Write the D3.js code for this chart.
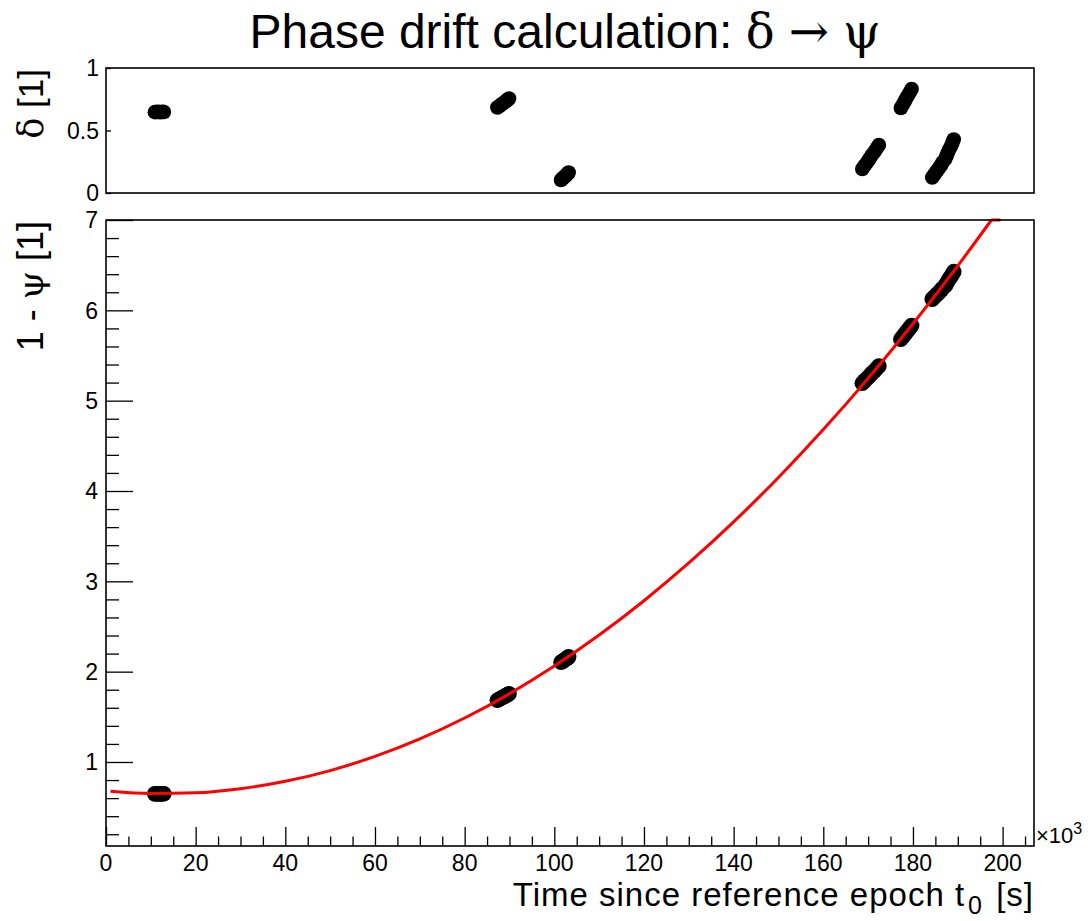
<!DOCTYPE html>
<html>
<head>
<meta charset="utf-8">
<script src="https://cdn.jsdelivr.net/npm/d3@7"></script>
<style>
  html, body { margin: 0; padding: 0; background: #fff; }
  svg { display: block; }
  text { font-family: "Liberation Sans", Arial, sans-serif; fill: #000; }
  .sym { font-family: "DejaVu Serif", "Liberation Serif", serif; }
</style>
</head>
<body>
<div id="chart"></div>
<script>
// observed phases: time since t0 (x10^3 s), fractional phase delta, cycle count
const obsTime = [
  10.9, 11.2, 11.5, 11.8, 12.1, 12.4, 12.7, 12.9,
  87.3, 87.7, 88.1, 88.5, 88.9, 89.3, 89.6, 89.9,
  101.5, 101.8, 102.1, 102.4, 102.7, 103.0, 103.2,
  168.7, 169.2, 169.8, 170.3, 170.8, 171.4, 171.9, 172.4,
  177.3, 177.7, 178.1, 178.5, 178.9, 179.3, 179.7,
  184.3, 184.7, 185.1, 185.5, 185.9, 186.3, 186.6,
  187.2, 187.5, 187.8, 188.1, 188.5, 188.8, 189.1
];
const obsDelta = [
  0.647, 0.648, 0.649, 0.648, 0.647, 0.648, 0.649, 0.648,
  0.684, 0.694, 0.705, 0.716, 0.727, 0.737, 0.746, 0.756,
  0.104, 0.114, 0.124, 0.134, 0.144, 0.155, 0.164,
  0.192, 0.219, 0.247, 0.274, 0.302, 0.329, 0.357, 0.384,
  0.680, 0.705, 0.731, 0.756, 0.781, 0.807, 0.832,
  0.124, 0.144, 0.164, 0.184, 0.204, 0.224, 0.244,
  0.272, 0.298, 0.324, 0.350, 0.376, 0.402, 0.428
];
const obsCycle = [
  0, 0, 0, 0, 0, 0, 0, 0,
  1, 1, 1, 1, 1, 1, 1, 1,
  2, 2, 2, 2, 2, 2, 2,
  5, 5, 5, 5, 5, 5, 5, 5,
  5, 5, 5, 5, 5, 5, 5,
  6, 6, 6, 6, 6, 6, 6,
  6, 6, 6, 6, 6, 6, 6
];

// fitted drift curve (x10^3 s, 1 - psi)
const fitTime  = [1, 10, 20, 30, 40, 50, 60, 70, 80, 90, 100, 110, 120, 130, 140, 150, 160, 170, 180, 190, 197.5];
const fitValue = [0.677, 0.652, 0.659, 0.704, 0.786, 0.905, 1.062, 1.256, 1.487, 1.756, 2.062, 2.405, 2.785, 3.203, 3.658, 4.150, 4.680, 5.247, 5.851, 6.493, 7.0];
// part of the curve past the frame top (drawn clipped along the edge)
const fitTailTime  = [197.5, 199.5];
const fitTailValue = [7.0, 7.15];

const xMajorTicks = [0, 20, 40, 60, 80, 100, 120, 140, 160, 180, 200];
const yMajorTicks = [1, 2, 3, 4, 5, 6, 7];
const deltaTicks = [0, 0.5, 1];

const W = 1088, H = 921;
const left = 106, right = 1034;
const top1 = 68, bot1 = 193;
const top2 = 220, bot2 = 846;

const svg = d3.select('#chart').append('svg')
  .attr('width', W).attr('height', H)
  .attr('viewBox', `0 0 ${W} ${H}`);
svg.append('rect').attr('width', W).attr('height', H).attr('fill', '#fff');

const x = d3.scaleLinear().domain([0, 207]).range([left, right]);
const yD = d3.scaleLinear().domain([0, 1]).range([bot1, top1]);
const yP = d3.scaleLinear().domain([0.07, 7]).range([bot2, top2]).clamp(true);

const points = obsTime.map((t, i) => ({ t, d: obsDelta[i], p: obsCycle[i] + obsDelta[i] }));

// ---- title ----
const title = svg.append('text')
  .attr('x', 565).attr('y', 48)
  .attr('text-anchor', 'middle')
  .attr('font-size', 48);
title.append('tspan').text('Phase drift calculation: ');
title.append('tspan').attr('class', 'sym').text('δ');
title.append('tspan').attr('class', 'sym').attr('dx', 14).text('→');
title.append('tspan').attr('class', 'sym').attr('dx', 14).text('ψ');

// ---- clip paths ----
svg.append('clipPath').attr('id', 'clipTop')
  .append('rect').attr('x', left).attr('y', top1).attr('width', right - left).attr('height', bot1 - top1);
svg.append('clipPath').attr('id', 'clipBot')
  .append('rect').attr('x', left).attr('y', top2 - 2).attr('width', right - left).attr('height', bot2 - top2 + 2);

// ---- top pad: delta ----
svg.append('g').attr('clip-path', 'url(#clipTop)')
  .selectAll('circle').data(points).join('circle')
  .attr('cx', d => x(d.t)).attr('cy', d => yD(d.d))
  .attr('r', 7.3).attr('fill', '#000');

svg.append('g')
  .attr('transform', `translate(${left},0)`)
  .call(d3.axisRight(yD).tickValues(deltaTicks).tickSize(5).tickFormat(''))
  .call(g => g.select('.domain').remove())
  .call(g => g.selectAll('line').attr('stroke-width', 1.2));

svg.append('g').selectAll('text').data(deltaTicks).join('text')
  .attr('x', left - 7).attr('y', d => yD(d))
  .attr('dy', '0.36em').attr('text-anchor', 'end')
  .attr('font-size', 23)
  .text(d => d3.format('~g')(d));

svg.append('rect')
  .attr('x', left).attr('y', top1).attr('width', right - left).attr('height', bot1 - top1)
  .attr('fill', 'none').attr('stroke', '#000').attr('stroke-width', 1.6);

svg.append('text')
  .attr('transform', `translate(43,${top1 + 1}) rotate(-90)`)
  .attr('text-anchor', 'end').attr('font-size', 35)
  .call(t => {
    t.append('tspan').attr('class', 'sym').text('δ');
    t.append('tspan').text(' [1]');
  });

// ---- bottom pad: 1 - psi ----
const yMinor = d3.range(0.2, 7.01, 0.2).filter(v => Math.abs(v - Math.round(v)) > 0.01);
const xMinor = d3.range(5, 207, 5).filter(v => v % 20 !== 0);

svg.append('g')
  .attr('transform', `translate(${left},0)`)
  .call(d3.axisRight(yP).tickValues(yMinor).tickSize(13).tickFormat(''))
  .call(g => g.select('.domain').remove());
svg.append('g')
  .attr('transform', `translate(${left},0)`)
  .call(d3.axisRight(yP).tickValues(yMajorTicks).tickSize(27).tickFormat(''))
  .call(g => g.select('.domain').remove());
svg.selectAll('.tick line').attr('stroke-width', 1.3);

svg.append('g').selectAll('text').data(yMajorTicks).join('text')
  .attr('x', left - 8).attr('y', d => yP(d))
  .attr('dy', '0.36em').attr('text-anchor', 'end')
  .attr('font-size', 23)
  .text(d => d);

svg.append('g')
  .attr('transform', `translate(0,${bot2})`)
  .call(d3.axisTop(x).tickValues(xMinor).tickSize(9.5).tickFormat(''))
  .call(g => g.select('.domain').remove())
  .call(g => g.selectAll('line').attr('stroke-width', 1.3));
svg.append('g')
  .attr('transform', `translate(0,${bot2})`)
  .call(d3.axisTop(x).tickValues(xMajorTicks).tickSize(19).tickFormat(''))
  .call(g => g.select('.domain').remove())
  .call(g => g.selectAll('line').attr('stroke-width', 1.3));

svg.append('g').selectAll('text').data(xMajorTicks).join('text')
  .attr('x', d => x(d)).attr('y', bot2 + 25)
  .attr('text-anchor', 'middle')
  .attr('font-size', 23)
  .text(d => d);

const exp = svg.append('text')
  .attr('x', right + 2).attr('y', bot2 - 3)
  .attr('font-size', 22);
exp.append('tspan').text('×10');
exp.append('tspan').attr('dy', -9).attr('font-size', 16).text('3');

const plot = svg.append('g').attr('clip-path', 'url(#clipBot)');
plot.selectAll('circle').data(points).join('circle')
  .attr('cx', d => x(d.t)).attr('cy', d => yP(d.p))
  .attr('r', 7.8).attr('fill', '#000');

const fitLine = d3.line()
  .x(d => x(d[0]))
  .y(d => yP(d[1]))
  .curve(d3.curveMonotoneX);
plot.append('path')
  .datum(fitTime.map((t, i) => [t, fitValue[i]]))
  .attr('d', fitLine)
  .attr('fill', 'none').attr('stroke', '#ff0000').attr('stroke-width', 3);
plot.append('path')
  .datum(fitTailTime.map((t, i) => [t, fitTailValue[i]]))
  .attr('d', fitLine.curve(d3.curveLinear))
  .attr('fill', 'none').attr('stroke', '#ff0000').attr('stroke-width', 3);

svg.append('rect')
  .attr('x', left).attr('y', top2).attr('width', right - left).attr('height', bot2 - top2)
  .attr('fill', 'none').attr('stroke', '#000').attr('stroke-width', 1.6);

svg.append('text')
  .attr('transform', `translate(43,${top2 + 1}) rotate(-90)`)
  .attr('text-anchor', 'end').attr('font-size', 36)
  .call(t => {
    t.append('tspan').text('1 - ');
    t.append('tspan').attr('class', 'sym').text('ψ');
    t.append('tspan').text('  [1]');
  });

const xt = svg.append('text')
  .attr('x', right).attr('y', 906)
  .attr('text-anchor', 'end').attr('font-size', 33)
  .attr('letter-spacing', 1);
xt.append('tspan').text('Time since reference epoch t');
xt.append('tspan').attr('dx', 3).attr('dy', 8).attr('font-size', 25).text('0');
xt.append('tspan').attr('dx', 3).attr('dy', -8).text(' [s]');
</script>
</body>
</html>
